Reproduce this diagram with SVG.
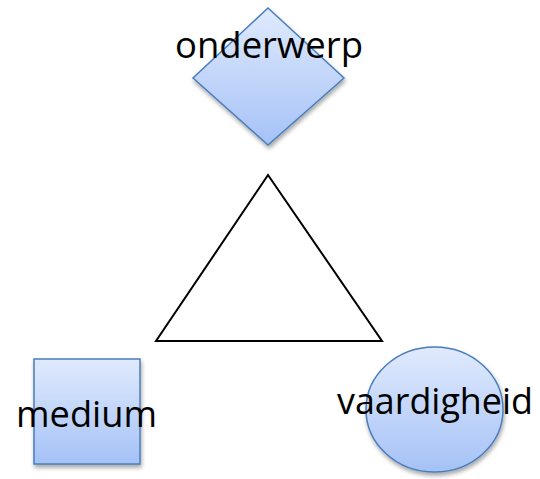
<svg xmlns="http://www.w3.org/2000/svg" width="540" height="479" viewBox="0 0 540 479">
  <defs>
    <linearGradient id="fillBlue" x1="0" y1="0" x2="0" y2="1">
      <stop offset="0" stop-color="#e0eafd"/>
      <stop offset="1" stop-color="#a5c2f6"/>
    </linearGradient>
    <filter id="shadow" x="-20%" y="-20%" width="140%" height="140%">
      <feGaussianBlur in="SourceAlpha" stdDeviation="2"/>
      <feOffset dx="1" dy="3" result="b"/>
      <feComponentTransfer><feFuncA type="linear" slope="0.35"/></feComponentTransfer>
      <feMerge><feMergeNode/><feMergeNode in="SourceGraphic"/></feMerge>
    </filter>
    <style>
      .shape { fill: url(#fillBlue); stroke: #4a7ebb; stroke-width: 1.5; filter: url(#shadow); }
      .label { font-family: "Open Sans", "Liberation Sans", sans-serif; font-size: 36px; fill: #000; }
    </style>
  </defs>
  <rect width="540" height="479" fill="#fff"/>

  <g id="triangle">
    <polygon points="268,175 156,341 382,341" fill="none" stroke="#000" stroke-width="2"/>
  </g>

  <g id="onderwerp">
    <polygon class="shape" points="268,8 344,78 268,145 193,78"/>
    <text class="label" x="175" y="58" textLength="188" lengthAdjust="spacingAndGlyphs">onderwerp</text>
  </g>

  <g id="medium">
    <rect class="shape" x="34" y="359" width="106" height="105"/>
    <text class="label" x="16" y="427" textLength="141" lengthAdjust="spacingAndGlyphs">medium</text>
  </g>

  <g id="vaardigheid">
    <ellipse class="shape" cx="434.5" cy="409.5" rx="68.5" ry="62.5"/>
    <text class="label" x="337" y="414" textLength="196" lengthAdjust="spacingAndGlyphs">vaardigheid</text>
  </g>

  <g id="connectors"/>
</svg>
